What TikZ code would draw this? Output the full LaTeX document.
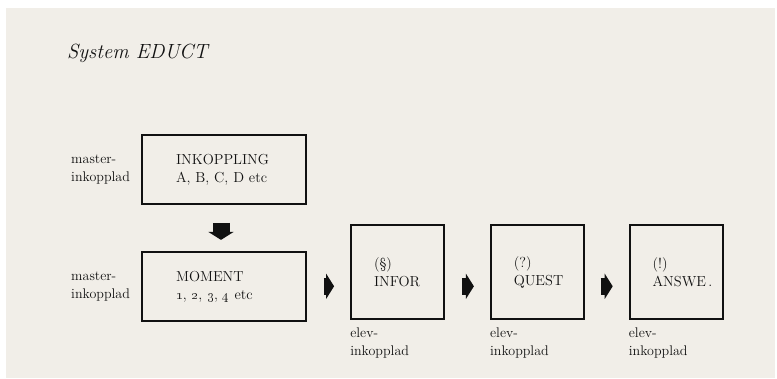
\documentclass[tikz,border=0pt]{standalone}
\usetikzlibrary{positioning,arrows.meta}
\definecolor{paper}{HTML}{F1EEE8}
\definecolor{ink}{HTML}{111111}

\begin{document}
\begin{tikzpicture}[
  x=1pt, y=-1pt,
  font=\fontsize{14.5}{18}\selectfont,
  every node/.style={text=ink},
  wbox/.style={draw=ink, line width=1.8pt, align=left, text width=96pt, inner xsep=34pt, inner ysep=0pt, minimum height=69pt},
  sqbox/.style={draw=ink, line width=1.8pt, align=left, text width=47pt, inner xsep=23pt, inner ysep=0pt, minimum height=94pt},
  lbl/.style={align=left, inner sep=0pt, font=\fontsize{14}{18}\selectfont},
  blk/.style={draw=ink, line width=17pt, -{Triangle[width=25pt,length=8pt]}}
]
\useasboundingbox (0,0) rectangle (777,379);
\fill[paper] (6,8) rectangle (775,378);

% title
\node[anchor=base west, inner sep=0pt, font=\fontsize{20.5}{24}\selectfont\itshape] (title) at (67,59) {System EDUCT};

% master side
\node[wbox] (inkop) at (224,169.5) {INKOPPLING\\A, B, C, D etc};
\node[wbox, below=46pt of inkop] (moment) {MOMENT\\\oldstylenums{1}, \oldstylenums{2}, \oldstylenums{3}, \oldstylenums{4} etc};
\node[lbl, left=11pt of inkop] (m1) {master-\\inkopplad};
\node[lbl, left=11pt of moment] (m2) {master-\\inkopplad};

% elev side
\node[sqbox] (infor) at (397.5,272) {(\S)\\INFOR};
\node[sqbox, right=45pt of infor] (quest) {(?)\\QUEST};
\node[sqbox, right=44pt of quest] (answe) {(!)\\ANSWE\,.};
\node[lbl, below=8pt of infor.south west, anchor=north west] (e1) {elev-\\inkopplad};
\node[lbl, below=8pt of quest.south west, anchor=north west] (e2) {elev-\\inkopplad};
\node[lbl, below=8pt of answe.south west, anchor=north west] (e3) {elev-\\inkopplad};

% block arrows
\draw[blk, shorten <=18pt, shorten >=11pt] ([xshift=-3pt]inkop.south) -- ([xshift=-3pt]moment.north);
\draw[blk, shorten <=17pt, shorten >=16pt] (moment.east) -- (moment.east -| infor.west);
\draw[blk, shorten <=17pt, shorten >=16pt] (infor.east |- moment.east) -- (quest.west |- moment.east);
\draw[blk, shorten <=16pt, shorten >=16pt] (quest.east |- moment.east) -- (answe.west |- moment.east);
\end{tikzpicture}
\end{document}
